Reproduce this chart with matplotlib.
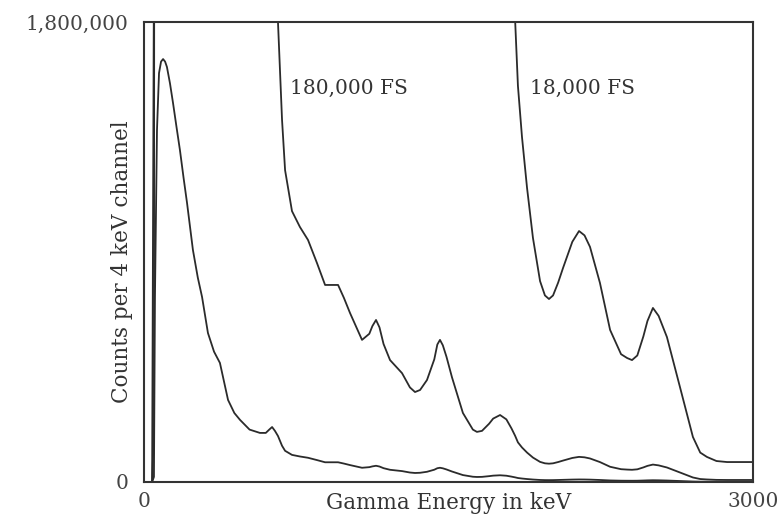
import matplotlib.pyplot as plt

# gamma spectrum (keV, counts per 4 keV channel)
energy = [0, 40, 49, 54, 64, 74, 84, 94, 104, 113, 128, 143, 160, 177, 195,
          212, 241, 265, 286, 315, 345, 374, 414, 445, 473, 520, 571, 600,
          617, 631, 645, 660, 680, 695, 729, 768, 808, 852, 892, 956, 985,
          1015, 1074, 1110, 1125, 1143, 1160, 1180, 1212, 1271, 1310, 1335,
          1360, 1394, 1430, 1445, 1458, 1472, 1490, 1517, 1571, 1620, 1640,
          1665, 1700, 1720, 1754, 1785, 1810, 1828, 1842, 1862, 1887, 1916,
          1951, 1975, 1995, 2015, 2040, 2064, 2110, 2143, 2170, 2197, 2246,
          2296, 2350, 2380, 2404, 2430, 2460, 2480, 2507, 2535, 2576, 2640,
          2704, 2740, 2773, 2820, 2872, 3000]
counts = [0, 0, 20000, 724000, 1377000, 1600000, 1645000, 1655000, 1645000,
          1624000, 1560000, 1483000, 1390000, 1299000, 1190000, 1092000,
          908000, 800000, 724000, 583000, 510000, 466000, 321000, 270000,
          243000, 205000, 192000, 192000, 205000, 215000, 200000, 180000,
          141700, 122000, 106000, 99800, 94700, 85700, 77100, 77100, 72000,
          66100, 55600, 58000, 61000, 63400, 60500, 54000, 47700, 42600,
          37000, 35200, 36000, 39900, 48000, 53800, 55600, 53500, 49000,
          41000, 27000, 20500, 19600, 20000, 22800, 24800, 26200, 24500,
          21000, 18100, 15500, 13500, 11500, 9550, 7860, 7300, 7160, 7300,
          7800, 8370, 9400, 9820, 9650, 9200, 7790, 5950, 5000, 4850, 4770,
          4950, 5700, 6300, 6810, 6500, 5670, 3720, 1760, 1150, 980, 820, 780,
          780]

# the same spectrum drawn at three full-scale settings
full_scales = [1800000, 180000, 18000]
fs_labels = ['180,000 FS', '18,000 FS']
fs_label_x = [720, 1900]

x_ticks = [0, 3000]
x_tick_labels = ['0', '3000']
y_ticks = [0, 1800000]
y_tick_labels = ['0', '1,800,000']

plt.rcParams['font.family'] = ['DejaVu Serif']

fig = plt.figure(figsize=(7.83, 5.24), dpi=100)
ax = fig.add_axes([0.1839, 0.0802, 0.9617 - 0.1839, 0.958 - 0.0802])

for fs in full_scales:
    gain = full_scales[0] / fs
    ax.plot(energy, [c * gain for c in counts], color='#2b2b2b', lw=1.3,
            solid_joinstyle='round')

for lab, xe in zip(fs_labels, fs_label_x):
    ax.text(xe, 1540000, lab, fontsize=14.5, color='#333333', va='center')

ax.set_xlim(0, 3000)
ax.set_ylim(0, 1800000)
ax.set_xticks(x_ticks)
ax.set_xticklabels(x_tick_labels, fontsize=14.5, color='#444444')
ax.set_yticks(y_ticks)
ax.set_yticklabels(y_tick_labels, fontsize=14.5, color='#444444')
ax.tick_params(length=0)
ax.tick_params(axis='y', pad=11)
ax.tick_params(axis='x', pad=7)

ax.text(0.5, -0.046, 'Gamma Energy in keV', transform=ax.transAxes,
        ha='center', va='center', fontsize=15.5, color='#333333')
ax.text(-0.036, 0.478, 'Counts per 4 keV channel', transform=ax.transAxes,
        ha='center', va='center', rotation=90, fontsize=15.5, color='#333333')

for s in ax.spines.values():
    s.set_linewidth(1.5)
    s.set_color('#333333')

fig.savefig('out.png', dpi=100)
